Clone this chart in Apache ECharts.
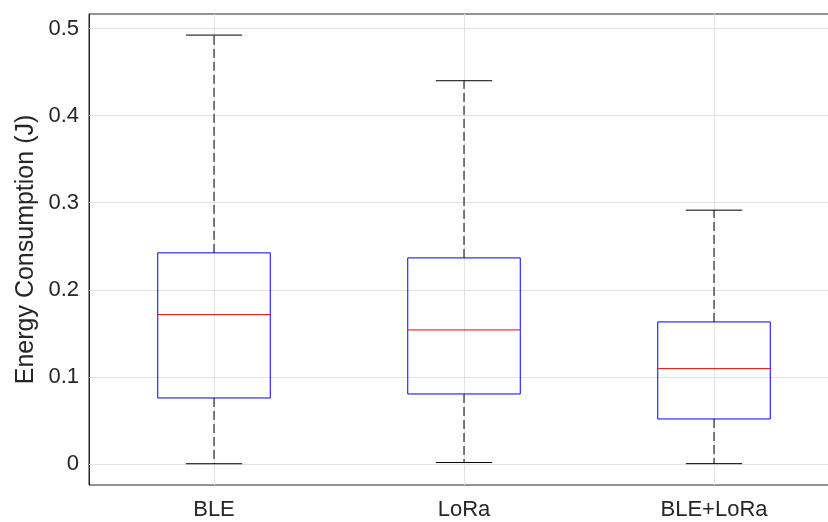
<!DOCTYPE html>
<html><head><meta charset="utf-8">
<script src="https://cdn.jsdelivr.net/npm/echarts@6/dist/echarts.min.js"></script>
<style>html,body{margin:0;padding:0;background:#fff}#c{width:828px;height:522px}</style>
</head><body><div id="c"></div>
<script>
const categories = ['BLE', 'LoRa', 'BLE+LoRa'];
const whiskerLow = [0.0003, 0.0017, 0.0004];
const q1 = [0.0758, 0.0804, 0.0517];
const median = [0.1715, 0.1539, 0.1095];
const q3 = [0.2424, 0.2366, 0.1631];
const whiskerHigh = [0.4924, 0.4400, 0.2914];
const yTicks = [0, 0.1, 0.2, 0.3, 0.4, 0.5];
const xTicks = [1, 2, 3];

const boxData = categories.map((c, i) => [i + 1, whiskerLow[i], q1[i], median[i], q3[i], whiskerHigh[i]]);
const axisColor = '#262626';
const font = 'Liberation Sans, Arial, Helvetica, sans-serif';

const chart = echarts.init(document.getElementById('c'), null, {renderer: 'canvas'});
chart.setOption({
  animation: false,
  grid: {left: 89, top: 14, width: 750, bottom: 37, outerBoundsMode: 'none', containLabel: false, show: true, borderColor: axisColor, borderWidth: 1, backgroundColor: 'transparent'},
  xAxis: {
    type: 'value', min: 0.5, max: 3.5,
    axisLine: {show: true, lineStyle: {color: axisColor, width: 1}},
    axisTick: {show: true, inside: true, length: 7, customValues: xTicks, lineStyle: {color: axisColor}},
    axisLabel: {customValues: xTicks, formatter: v => categories[Math.round(v) - 1] || '', color: axisColor, fontSize: 22, fontFamily: font, margin: 14},
    splitLine: {show: false}
  },
  yAxis: {
    type: 'value', min: -0.0241, max: 0.5166,
    name: 'Energy Consumption (J)', nameLocation: 'middle', nameGap: 50, nameMoveOverlap: false,
    nameTextStyle: {color: axisColor, fontSize: 25, fontFamily: font},
    axisLine: {show: true, lineStyle: {color: axisColor, width: 1}},
    axisTick: {show: true, inside: true, length: 8, customValues: yTicks, lineStyle: {color: axisColor}},
    axisLabel: {customValues: yTicks, formatter: v => String(Math.round(v * 10) / 10), color: axisColor, fontSize: 22, fontFamily: font, margin: 10},
    splitLine: {show: false}
  },
  series: [
    {
      type: 'line', data: [], z: 1, silent: true,
      markLine: {
        silent: true, symbol: 'none', animation: false,
        label: {show: false},
        lineStyle: {color: '#e3e3e3', type: 'solid', width: 1},
        data: yTicks.map(v => ({yAxis: v})).concat(xTicks.map(v => ({xAxis: v})))
      }
    },
    {
      type: 'custom', z: 5, data: boxData,
      encode: {x: 0, y: [1, 2, 3, 4, 5]},
      renderItem: function (params, api) {
        const x = api.value(0);
        const lo = api.coord([x, api.value(1)]);
        const a = api.coord([x, api.value(2)]);
        const m = api.coord([x, api.value(3)]);
        const b = api.coord([x, api.value(4)]);
        const hi = api.coord([x, api.value(5)]);
        const unit = api.size([1, 0])[0];
        const bw = unit * 0.45, cw = unit * 0.225;
        const cx = lo[0];
        return {
          type: 'group',
          children: [
            {type: 'line', shape: {x1: cx, y1: b[1], x2: cx, y2: hi[1]}, style: {stroke: '#000', lineWidth: 1, lineDash: [9, 4]}},
            {type: 'line', shape: {x1: cx, y1: a[1], x2: cx, y2: lo[1]}, style: {stroke: '#000', lineWidth: 1, lineDash: [9, 4]}},
            {type: 'line', shape: {x1: cx - cw / 2, y1: hi[1], x2: cx + cw / 2, y2: hi[1]}, style: {stroke: '#000', lineWidth: 1}},
            {type: 'line', shape: {x1: cx - cw / 2, y1: lo[1], x2: cx + cw / 2, y2: lo[1]}, style: {stroke: '#000', lineWidth: 1}},
            {type: 'rect', shape: {x: cx - bw / 2, y: b[1], width: bw, height: a[1] - b[1]}, style: {stroke: '#0000ff', fill: 'none', lineWidth: 1}},
            {type: 'line', shape: {x1: cx - bw / 2, y1: m[1], x2: cx + bw / 2, y2: m[1]}, style: {stroke: '#ff0000', lineWidth: 1}}
          ]
        };
      }
    }
  ]
});
</script></body></html>
